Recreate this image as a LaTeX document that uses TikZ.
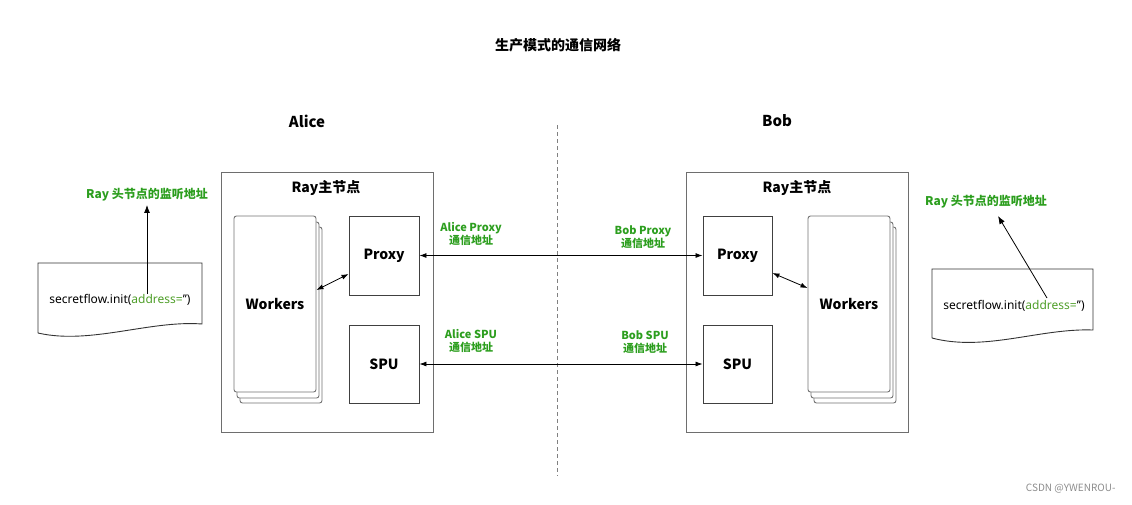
\documentclass[tikz,border=0pt]{standalone}
\usepackage{fontspec}
\setmainfont{Noto Sans CJK SC}
\newfontfamily\latinf{Noto Sans}
\usetikzlibrary{arrows.meta}
\definecolor{lblgreen}{RGB}{44,158,30}
\definecolor{addrgreen}{RGB}{78,158,40}
\definecolor{boxgray}{RGB}{110,110,110}
\tikzset{
  bigbox/.style={draw=boxgray, line width=0.9pt, minimum width=#1},
  inbox/.style={draw=black!75, line width=0.9pt, minimum width=70pt, font=\fontsize{14}{16}\selectfont\bfseries},
  wlayer/.style={draw=black!55, fill=white, rounded corners=2.5pt, line width=0.9pt, minimum width=82pt, minimum height=176pt},
  glabel/.style={text=lblgreen, font=\fontsize{11}{13}\selectfont\bfseries, align=center},
  hlabel/.style={font=\fontsize{15}{17}\selectfont\bfseries},
  codetext/.style={font=\latinf\fontsize{12}{14}\selectfont},
  dbl/.style={{Latex[length=7pt,width=5pt]}-{Latex[length=7pt,width=5pt]}, line width=0.8pt},
  onearr/.style={-{Latex[length=8pt,width=6pt]}, line width=0.8pt},
  docshape/.style={draw=black!80, line width=0.9pt}
}
\begin{document}
\begin{tikzpicture}[x=1pt,y=-1pt]
\useasboundingbox (0,0) rectangle (1132,504);
% title
\node[font=\fontsize{14}{16}\selectfont\bfseries] (title) at (558,45) {生产模式的通信网络};
\node[hlabel] (alice) at (307,121) {Alice};
\node[hlabel] (bob) at (777,121) {Bob};
% divider
\coordinate (d1) at (557,125);
\coordinate (d2) at (557,476);
\draw[black!50, line width=0.8pt, dash pattern=on 4pt off 3pt] (d1) -- (d2);

% ---------- Alice ----------
\node[bigbox=212pt, minimum height=260pt] (abox) at (327,302) {};
\node[font=\fontsize{14}{16}\selectfont\bfseries] (aray) at (326,188) {Ray主节点};
\node[wlayer] (aw3) at (281,315) {};
\node[wlayer] (aw2) at (278,310) {};
\node[wlayer, font=\fontsize{14}{16}\selectfont\bfseries] (aw) at (275,304) {Workers};
\node[inbox, minimum height=79pt] (ap) at (384,255.5) {Proxy};
\node[inbox, minimum height=78pt] (as) at (384,364) {SPU};
\draw[dbl] ([yshift=14pt]aw.east) -- ([yshift=-18.5pt]ap.west);

% ---------- Bob ----------
\node[bigbox=222pt, minimum height=260pt] (bbox) at (797,302) {};
\node[font=\fontsize{14}{16}\selectfont\bfseries] (bray) at (797,188) {Ray主节点};
\node[wlayer] (bw3) at (855,315) {};
\node[wlayer] (bw2) at (852,310) {};
\node[wlayer, font=\fontsize{14}{16}\selectfont\bfseries] (bw) at (849,304) {Workers};
\node[inbox, minimum width=69pt, minimum height=79pt] (bp) at (737.5,255.5) {Proxy};
\node[inbox, minimum width=69pt, minimum height=78pt] (bs) at (737.5,364) {SPU};
\draw[dbl] ([yshift=-17.5pt]bp.east) -- ([yshift=16pt]bw.west);

% ---------- links ----------
\draw[dbl] (ap.east) -- (bp.west);
\draw[dbl] (as.east) -- (bs.west);
\node[glabel] (lap) at (471,234) {Alice Proxy\\通信地址};
\node[glabel] (lbp) at (643,237) {Bob Proxy\\通信地址};
\node[glabel] (las) at (471,341) {Alice SPU\\通信地址};
\node[glabel] (lbs) at (645,342) {Bob SPU\\通信地址};

% ---------- left document ----------
\coordinate (l1) at (38,263);
\coordinate (l2) at (202,263);
\coordinate (l3) at (202,324);
\coordinate (l4) at (38,333);
\draw[docshape] (l4) -- (l1) -- (l2) -- (l3) .. controls (150,320) and (90,345) .. (l4);
\node[codetext] (lcode) at (120,300) {secretflow.init(\textcolor{addrgreen}{address=}’’)};
\coordinate (lstart) at (147,294);
\node[text=lblgreen, font=\fontsize{12}{14}\selectfont\bfseries] (lray) at (147,195) {Ray 头节点的监听地址};
\draw[onearr] (lstart) -- (lray.south);

% ---------- right document ----------
\coordinate (r1) at (932,269);
\coordinate (r2) at (1093,269);
\coordinate (r3) at (1093,330);
\coordinate (r4) at (932,338);
\draw[docshape] (r4) -- (r1) -- (r2) -- (r3) .. controls (1040,328) and (985,352) .. (r4);
\node[codetext] (rcode) at (1014,306) {secretflow.init(\textcolor{addrgreen}{address=}’’)};
\coordinate (rstart) at (1047,298);
\node[text=lblgreen, font=\fontsize{12}{14}\selectfont\bfseries] (rray) at (986,202) {Ray 头节点的监听地址};
\coordinate (rtip) at (998,216);
\draw[onearr] (rstart) -- (rtip);

% watermark
\node[anchor=east, text=black!45, font=\fontsize{10}{12}\selectfont] (wm) at (1119,489) {CSDN @YWENROU-};
\end{tikzpicture}
\end{document}
